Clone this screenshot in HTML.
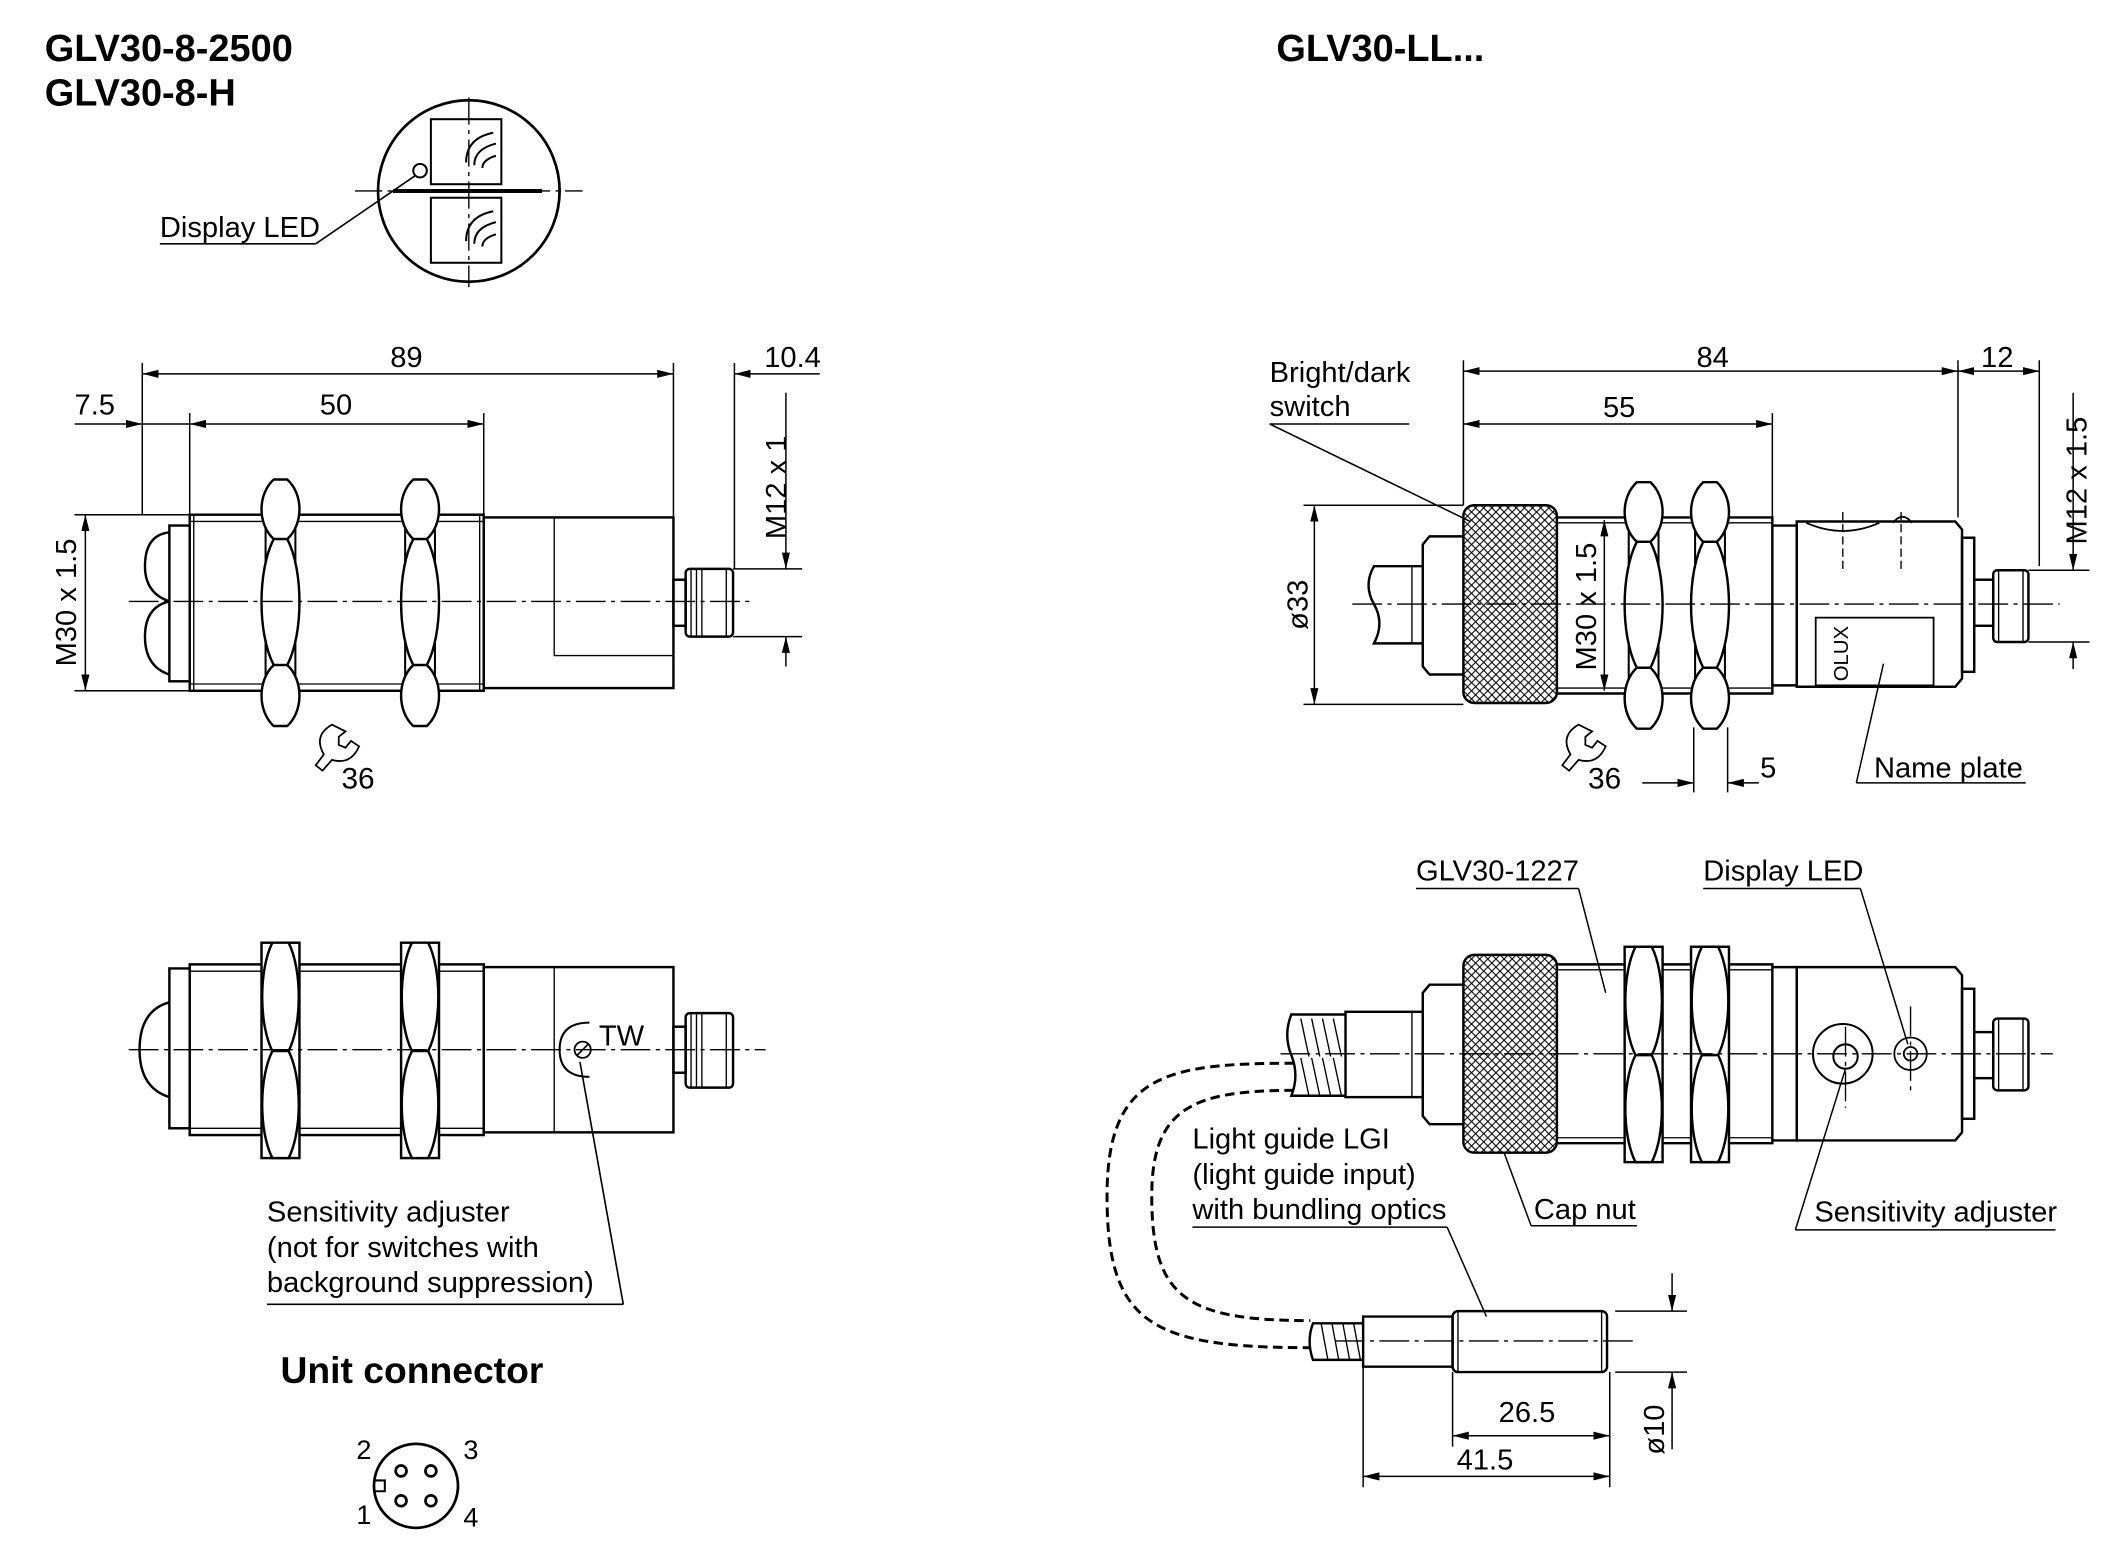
<!DOCTYPE html>
<html><head><meta charset="utf-8">
<style>
html,body{margin:0;padding:0;background:#fff;}
svg{display:block;}
text{font-family:"Liberation Sans",Arial,sans-serif;fill:#000;font-size:21.5px;}
.t{font-size:28px;font-weight:bold;}
</style></head>
<body>
<svg width="2126" height="1559" viewBox="0 0 1569 1151" preserveAspectRatio="none" xmlns="http://www.w3.org/2000/svg">
<defs>
<marker id="a" viewBox="0 0 12 6" refX="12" refY="3" markerWidth="12" markerHeight="6" markerUnits="userSpaceOnUse" orient="auto-start-reverse">
<path d="M0,0 L12,3 L0,6 z" fill="#000"/></marker>
<pattern id="kn" width="6" height="6" patternUnits="userSpaceOnUse">
<path d="M0,0 L6,6 M6,0 L0,6" stroke="#000" stroke-width="0.8"/></pattern>
<g id="nutT" fill="#fff" stroke="#000" stroke-width="1.8">
<rect x="-11" y="26" width="22" height="130" stroke-width="1.5"/>
<path d="M-5,0 H5 C17,11 17,33 5,44 H-5 C-17,33 -17,11 -5,0 Z"/>
<path d="M-5,44 H5 C17,67 17,114 5,137 H-5 C-17,114 -17,67 -5,44 Z"/>
<path d="M-5,137 H5 C17,148 17,171 5,182 H-5 C-17,171 -17,148 -5,137 Z"/>
</g>
<g id="nutB" fill="#fff" stroke="#000" stroke-width="1.8">
<rect x="-14" y="0" width="28" height="159"/>
<path d="M-6,0 H6 C16,20 16,60 6,80 H-6 C-16,60 -16,20 -6,0 Z"/>
<path d="M-6,80 H6 C16,100 16,139 6,159 H-6 C-16,139 -16,100 -6,80 Z"/>
</g>
</defs>

<text x="33" y="45" class="t">GLV30-8-2500</text>
<text x="33" y="78" class="t">GLV30-8-H</text>
<text x="942" y="45" class="t">GLV30-LL...</text>

<g fill="none" stroke="#000" stroke-width="1.5">
<circle cx="346" cy="141" r="67" stroke-width="2"/>
<line x1="262" y1="141" x2="430" y2="141" stroke-width="1" stroke-dasharray="20,4,3,4"/>
<line x1="346" y1="72" x2="346" y2="212" stroke-width="1" stroke-dasharray="20,4,3,4"/>
<rect x="318" y="88" width="52" height="48"/>
<rect x="318" y="146" width="52" height="48"/>
<line x1="290" y1="141" x2="400" y2="141" stroke-width="3"/>
<path d="M344,120 q0,-18 20,-22 M350,122 q0,-12 16,-16 M356,124 q0,-6 10,-9"/>
<path d="M344,178 q0,-18 20,-22 M350,180 q0,-12 16,-16 M356,182 q0,-6 10,-9"/>
<circle cx="310" cy="126" r="5"/>
<line x1="233" y1="180" x2="306" y2="130" stroke-width="1.2"/>
<line x1="118" y1="180" x2="233" y2="180" stroke-width="1.2"/>
</g>
<text x="118" y="175">Display LED</text>

<g fill="none" stroke="#000" stroke-width="1.1">
<line x1="105" y1="268" x2="105" y2="380"/>
<line x1="140" y1="305" x2="140" y2="380"/>
<line x1="357" y1="305" x2="357" y2="380"/>
<line x1="497" y1="268" x2="497" y2="382"/>
<line x1="542" y1="268" x2="542" y2="420"/>
<line x1="105" y1="276" x2="497" y2="276" marker-start="url(#a)" marker-end="url(#a)"/>
<line x1="542" y1="276" x2="605" y2="276" marker-start="url(#a)"/>
<line x1="55" y1="313" x2="105" y2="313" marker-end="url(#a)"/>
<line x1="105" y1="313" x2="140" y2="313"/>
<line x1="140" y1="313" x2="357" y2="313" marker-start="url(#a)" marker-end="url(#a)"/>
<line x1="55" y1="380" x2="140" y2="380"/>
<line x1="55" y1="510" x2="140" y2="510"/>
<line x1="63" y1="380" x2="63" y2="510" marker-start="url(#a)" marker-end="url(#a)"/>
<line x1="541" y1="420" x2="592" y2="420"/>
<line x1="541" y1="470" x2="592" y2="470"/>
<line x1="580" y1="290" x2="580" y2="420" marker-end="url(#a)"/>
<line x1="580" y1="470" x2="580" y2="492" marker-start="url(#a)"/>
</g>
<text x="288" y="271">89</text>
<text x="564" y="271">10.4</text>
<text x="55" y="306">7.5</text>
<text x="236" y="306">50</text>
<text transform="translate(56,492) rotate(-90)">M30 x 1.5</text>
<text transform="translate(580,398) rotate(-90)">M12 x 1</text>

<g fill="none" stroke="#000" stroke-width="1.8">
<rect x="140" y="380" width="217" height="130"/>
<line x1="140" y1="385" x2="357" y2="385" stroke-width="1"/>
<line x1="140" y1="505" x2="357" y2="505" stroke-width="1"/>
<line x1="143" y1="380" x2="143" y2="510" stroke-width="1"/>
<line x1="354" y1="380" x2="354" y2="510" stroke-width="1"/>
<rect x="357" y="382" width="140" height="126"/>
<rect x="409" y="382" width="88" height="102" stroke-width="1"/>
<rect x="125" y="388" width="15" height="115"/>
<path d="M125,393 q-18,2 -18,25 q0,20 18,26 M125,444 q-18,4 -18,26 q0,22 18,28"/>
<rect x="497" y="428" width="9" height="34"/>
<rect x="506" y="420" width="35" height="50" rx="3"/>
<path d="M510,420 v50 M514,420 v50 M518,420 v50 M536,420 v50" stroke-width="1"/>
</g>
<use href="#nutT" x="207" y="354"/>
<use href="#nutT" x="310" y="354"/>
<line x1="95" y1="444" x2="555" y2="444" stroke="#000" stroke-width="1" stroke-dasharray="22,4,3,4"/>
<path d="M245,535 q-14,8 -6,22 l-6,8 l5,4 l7,-8 q14,4 20,-10 l-6,-4 l-4,5 l-5,-2 l0,-6 l5,-4 z" fill="none" stroke="#000" stroke-width="1.3"/>
<text x="252" y="582" style="font-size:22px">36</text>

<g fill="none" stroke="#000" stroke-width="1.8">
<rect x="140" y="712" width="217" height="126"/>
<line x1="140" y1="717" x2="357" y2="717" stroke-width="1"/>
<line x1="140" y1="833" x2="357" y2="833" stroke-width="1"/>
<rect x="357" y="714" width="140" height="122"/>
<line x1="409" y1="714" x2="409" y2="836" stroke-width="1"/>
<rect x="125" y="715" width="15" height="118"/>
<path d="M125,740 q-22,6 -22,35 q0,28 22,35"/>
<rect x="497" y="758" width="9" height="34"/>
<rect x="506" y="748" width="35" height="55" rx="3"/>
<path d="M510,748 v55 M514,748 v55 M518,748 v55 M536,748 v55" stroke-width="1"/>
<path d="M435,755 q-22,0 -22,20 q0,20 22,20" stroke-width="1.5"/>
<circle cx="430" cy="775" r="6" stroke-width="1.3"/>
<line x1="426" y1="779" x2="434" y2="771" stroke-width="1.2"/>
</g>
<use href="#nutB" x="207" y="696"/>
<use href="#nutB" x="310" y="696"/>
<line x1="95" y1="775" x2="565" y2="775" stroke="#000" stroke-width="1" stroke-dasharray="22,4,3,4"/>
<text x="442" y="772">TW</text>
<g stroke="#000" stroke-width="1.2" fill="none">
<line x1="428" y1="784" x2="460" y2="963"/>
<line x1="197" y1="963" x2="460" y2="963"/>
</g>
<text x="197" y="902">Sensitivity adjuster</text>
<text x="197" y="928">(not for switches with</text>
<text x="197" y="954">background suppression)</text>
<text x="207" y="1021" style="font-size:27.5px;font-weight:bold">Unit connector</text>
<g fill="none" stroke="#000" stroke-width="2">
<circle cx="307" cy="1097" r="31"/>
<circle cx="296" cy="1086" r="4"/><circle cx="318" cy="1086" r="4"/>
<circle cx="296" cy="1108" r="4"/><circle cx="318" cy="1108" r="4"/>
<path d="M276,1093 h8 v8 h-8" stroke-width="1.5"/>
</g>
<text x="263" y="1077" style="font-size:20px">2</text>
<text x="342" y="1077" style="font-size:20px">3</text>
<text x="263" y="1125" style="font-size:20px">1</text>
<text x="342" y="1127" style="font-size:20px">4</text>

<g fill="none" stroke="#000" stroke-width="1.1">
<line x1="1080" y1="266" x2="1080" y2="373"/>
<line x1="1308" y1="305" x2="1308" y2="382"/>
<line x1="1445" y1="266" x2="1445" y2="382"/>
<line x1="1505" y1="266" x2="1505" y2="418"/>
<line x1="1080" y1="274" x2="1445" y2="274" marker-start="url(#a)" marker-end="url(#a)"/>
<line x1="1445" y1="274" x2="1505" y2="274" marker-start="url(#a)" marker-end="url(#a)"/>
<line x1="1080" y1="313" x2="1308" y2="313" marker-start="url(#a)" marker-end="url(#a)"/>
<line x1="937" y1="313" x2="1040" y2="313"/>
<line x1="937" y1="313" x2="1085" y2="385"/>
<line x1="962" y1="373" x2="1080" y2="373"/>
<line x1="962" y1="520" x2="1080" y2="520"/>
<line x1="970" y1="373" x2="970" y2="520" marker-start="url(#a)" marker-end="url(#a)"/>
<line x1="1184" y1="384" x2="1184" y2="510" marker-start="url(#a)" marker-end="url(#a)"/>
<line x1="1497" y1="421" x2="1542" y2="421"/>
<line x1="1497" y1="474" x2="1542" y2="474"/>
<line x1="1530" y1="290" x2="1530" y2="421" marker-end="url(#a)"/>
<line x1="1530" y1="474" x2="1530" y2="494" marker-start="url(#a)"/>
<line x1="1250" y1="537" x2="1250" y2="585"/>
<line x1="1275" y1="537" x2="1275" y2="585"/>
<line x1="1212" y1="578" x2="1250" y2="578" marker-end="url(#a)"/>
<line x1="1275" y1="578" x2="1298" y2="578" marker-start="url(#a)"/>
<line x1="1390" y1="490" x2="1370" y2="578"/>
<line x1="1370" y1="578" x2="1495" y2="578"/>
</g>
<text x="937" y="282">Bright/dark</text>
<text x="937" y="307">switch</text>
<text x="1252" y="271">84</text>
<text x="1462" y="271">12</text>
<text x="1183" y="308">55</text>
<text x="1299" y="574">5</text>
<text x="1383" y="574">Name plate</text>
<text transform="translate(965,465) rotate(-90)">ø33</text>
<text transform="translate(1178,495) rotate(-90)">M30 x 1.5</text>
<text transform="translate(1540,402) rotate(-90)">M12 x 1.5</text>

<g fill="none" stroke="#000" stroke-width="1.8">
<path d="M1050,418 h-36 q-8,14 0,28 q8,14 0,29 h36"/>
<line x1="1042" y1="418" x2="1042" y2="475" stroke-width="1"/>
<path d="M1080,396 h-25 l-5,6 v90 l5,6 h25"/>
<path d="M1149,382 H1308 V512 H1149"/>
<line x1="1149" y1="386" x2="1308" y2="386" stroke-width="1"/>
<line x1="1149" y1="508" x2="1308" y2="508" stroke-width="1"/>
<path d="M1308,388 h18 v118 h-18"/>
<path d="M1326,385 H1443 l5,6 v110 l-5,6 H1326 z"/>
<path d="M1333,386 q27,12 54,0" stroke-width="1.3"/>
<path d="M1397,386 q7,-9 14,0" stroke-width="1.3"/>
<rect x="1340" y="456" width="87" height="50" stroke-width="1.3"/>
<rect x="1080" y="373" width="69" height="146" rx="8" fill="url(#kn)"/>
<rect x="1448" y="397" width="9" height="99"/>
<rect x="1457" y="428" width="14" height="34"/>
<rect x="1471" y="421" width="26" height="53" rx="3"/>
<path d="M1475,421 v53 M1493,421 v53" stroke-width="1"/>
</g>
<use href="#nutT" x="1213" y="356"/>
<use href="#nutT" x="1262" y="356"/>
<line x1="998" y1="446" x2="1520" y2="446" stroke="#000" stroke-width="1" stroke-dasharray="22,4,3,4"/>
<line x1="1360" y1="378" x2="1360" y2="420" stroke="#000" stroke-width="1" stroke-dasharray="6,3"/>
<line x1="1403" y1="378" x2="1403" y2="420" stroke="#000" stroke-width="1" stroke-dasharray="6,3"/>
<text transform="translate(1364,503) rotate(-90)" style="font-size:15px">OLUX</text>
<path d="M1165,535 q-14,8 -6,22 l-6,8 l5,4 l7,-8 q14,4 20,-10 l-6,-4 l-4,5 l-5,-2 l0,-6 l5,-4 z" fill="none" stroke="#000" stroke-width="1.3"/>
<text x="1172" y="582" style="font-size:22px">36</text>

<g fill="none" stroke="#000" stroke-width="1.8">
<path d="M993,749 h-40 q-6,15 0,30 q6,15 0,30 h40"/>
<path d="M960,752 l6,28 M968,752 l6,28 M976,752 l6,28 M984,752 l6,28 M960,781 l6,28 M968,781 l6,28 M976,781 l6,28 M984,781 l6,28" stroke-width="1"/>
<rect x="993" y="747" width="57" height="63"/>
<line x1="1042" y1="747" x2="1042" y2="810" stroke-width="1"/>
<path d="M1080,727 h-25 l-5,6 v91 l5,6 h25"/>
<path d="M1149,712 H1308 V844 H1149"/>
<line x1="1149" y1="716" x2="1308" y2="716" stroke-width="1"/>
<line x1="1149" y1="840" x2="1308" y2="840" stroke-width="1"/>
<path d="M1308,714 h18 v128 h-18"/>
<path d="M1326,714 H1443 l5,6 v116 l-5,6 H1326 z"/>
<rect x="1080" y="705" width="69" height="146" rx="8" fill="url(#kn)"/>
<rect x="1448" y="730" width="9" height="96"/>
<rect x="1457" y="762" width="14" height="34"/>
<rect x="1471" y="752" width="26" height="53" rx="3"/>
<path d="M1475,752 v53 M1493,752 v53" stroke-width="1"/>
<circle cx="1360" cy="778" r="22" stroke-width="1.5"/>
<circle cx="1362" cy="780" r="9" stroke-width="1.5"/>
<circle cx="1410" cy="778" r="12" stroke-width="1.3"/>
<circle cx="1410" cy="778" r="5" stroke-width="1.3"/>
<path d="M1006,972 h66 v37 h-66 z"/>
<rect x="1072" y="968" width="114" height="45" rx="4"/>
<line x1="1076" y1="968" x2="1076" y2="1013" stroke-width="1"/>
<line x1="1182" y1="968" x2="1182" y2="1013" stroke-width="1"/>
<path d="M1006,977 h-37 q-5,13 0,27 h37"/>
<path d="M975,977 l5,27 M983,977 l5,27 M991,977 l5,27 M999,977 l5,27" stroke-width="1"/>
</g>
<use href="#nutB" x="1213" y="699"/>
<use href="#nutB" x="1262" y="699"/>
<g stroke="#000" stroke-width="1" stroke-dasharray="22,4,3,4">
<line x1="945" y1="778" x2="1515" y2="778"/>
<line x1="1410" y1="743" x2="1410" y2="808"/>
<line x1="1362" y1="758" x2="1362" y2="818"/>
<line x1="985" y1="990" x2="1205" y2="990"/>
</g>
<g fill="none" stroke="#000" stroke-width="2.2" stroke-dasharray="7,4">
<path d="M955,785 C860,785 817,793 817,883 C817,978 850,995 967,995"/>
<path d="M955,805 C880,805 850,818 850,883 C850,958 875,975 967,975"/>
</g>
<g fill="none" stroke="#000" stroke-width="1.1">
<line x1="1045" y1="656" x2="1165" y2="656"/>
<line x1="1165" y1="656" x2="1185" y2="733"/>
<line x1="1257" y1="656" x2="1373" y2="656"/>
<line x1="1373" y1="656" x2="1408" y2="771"/>
<line x1="1110" y1="851" x2="1130" y2="905"/>
<line x1="1130" y1="905" x2="1208" y2="905"/>
<line x1="1362" y1="789" x2="1325" y2="908"/>
<line x1="1325" y1="908" x2="1517" y2="908"/>
<line x1="880" y1="906" x2="1068" y2="906"/>
<line x1="1068" y1="906" x2="1097" y2="972"/>
<line x1="1072" y1="1013" x2="1072" y2="1068"/>
<line x1="1188" y1="1013" x2="1188" y2="1098"/>
<line x1="1006" y1="1009" x2="1006" y2="1098"/>
<line x1="1072" y1="1060" x2="1188" y2="1060" marker-start="url(#a)" marker-end="url(#a)"/>
<line x1="1006" y1="1090" x2="1188" y2="1090" marker-start="url(#a)" marker-end="url(#a)"/>
<line x1="1192" y1="968" x2="1245" y2="968"/>
<line x1="1192" y1="1013" x2="1245" y2="1013"/>
<line x1="1234" y1="940" x2="1234" y2="968" marker-end="url(#a)"/>
<line x1="1234" y1="1013" x2="1234" y2="1070" marker-start="url(#a)"/>
</g>
<text x="1045" y="650">GLV30-1227</text>
<text x="1257" y="650">Display LED</text>
<text x="1132" y="900">Cap nut</text>
<text x="1339" y="902">Sensitivity adjuster</text>
<text x="880" y="848">Light guide LGI</text>
<text x="880" y="874">(light guide input)</text>
<text x="880" y="900">with bundling optics</text>
<text x="1106" y="1050">26.5</text>
<text x="1075" y="1085">41.5</text>
<text transform="translate(1228,1074) rotate(-90)">ø10</text>
</svg>
</body></html>
